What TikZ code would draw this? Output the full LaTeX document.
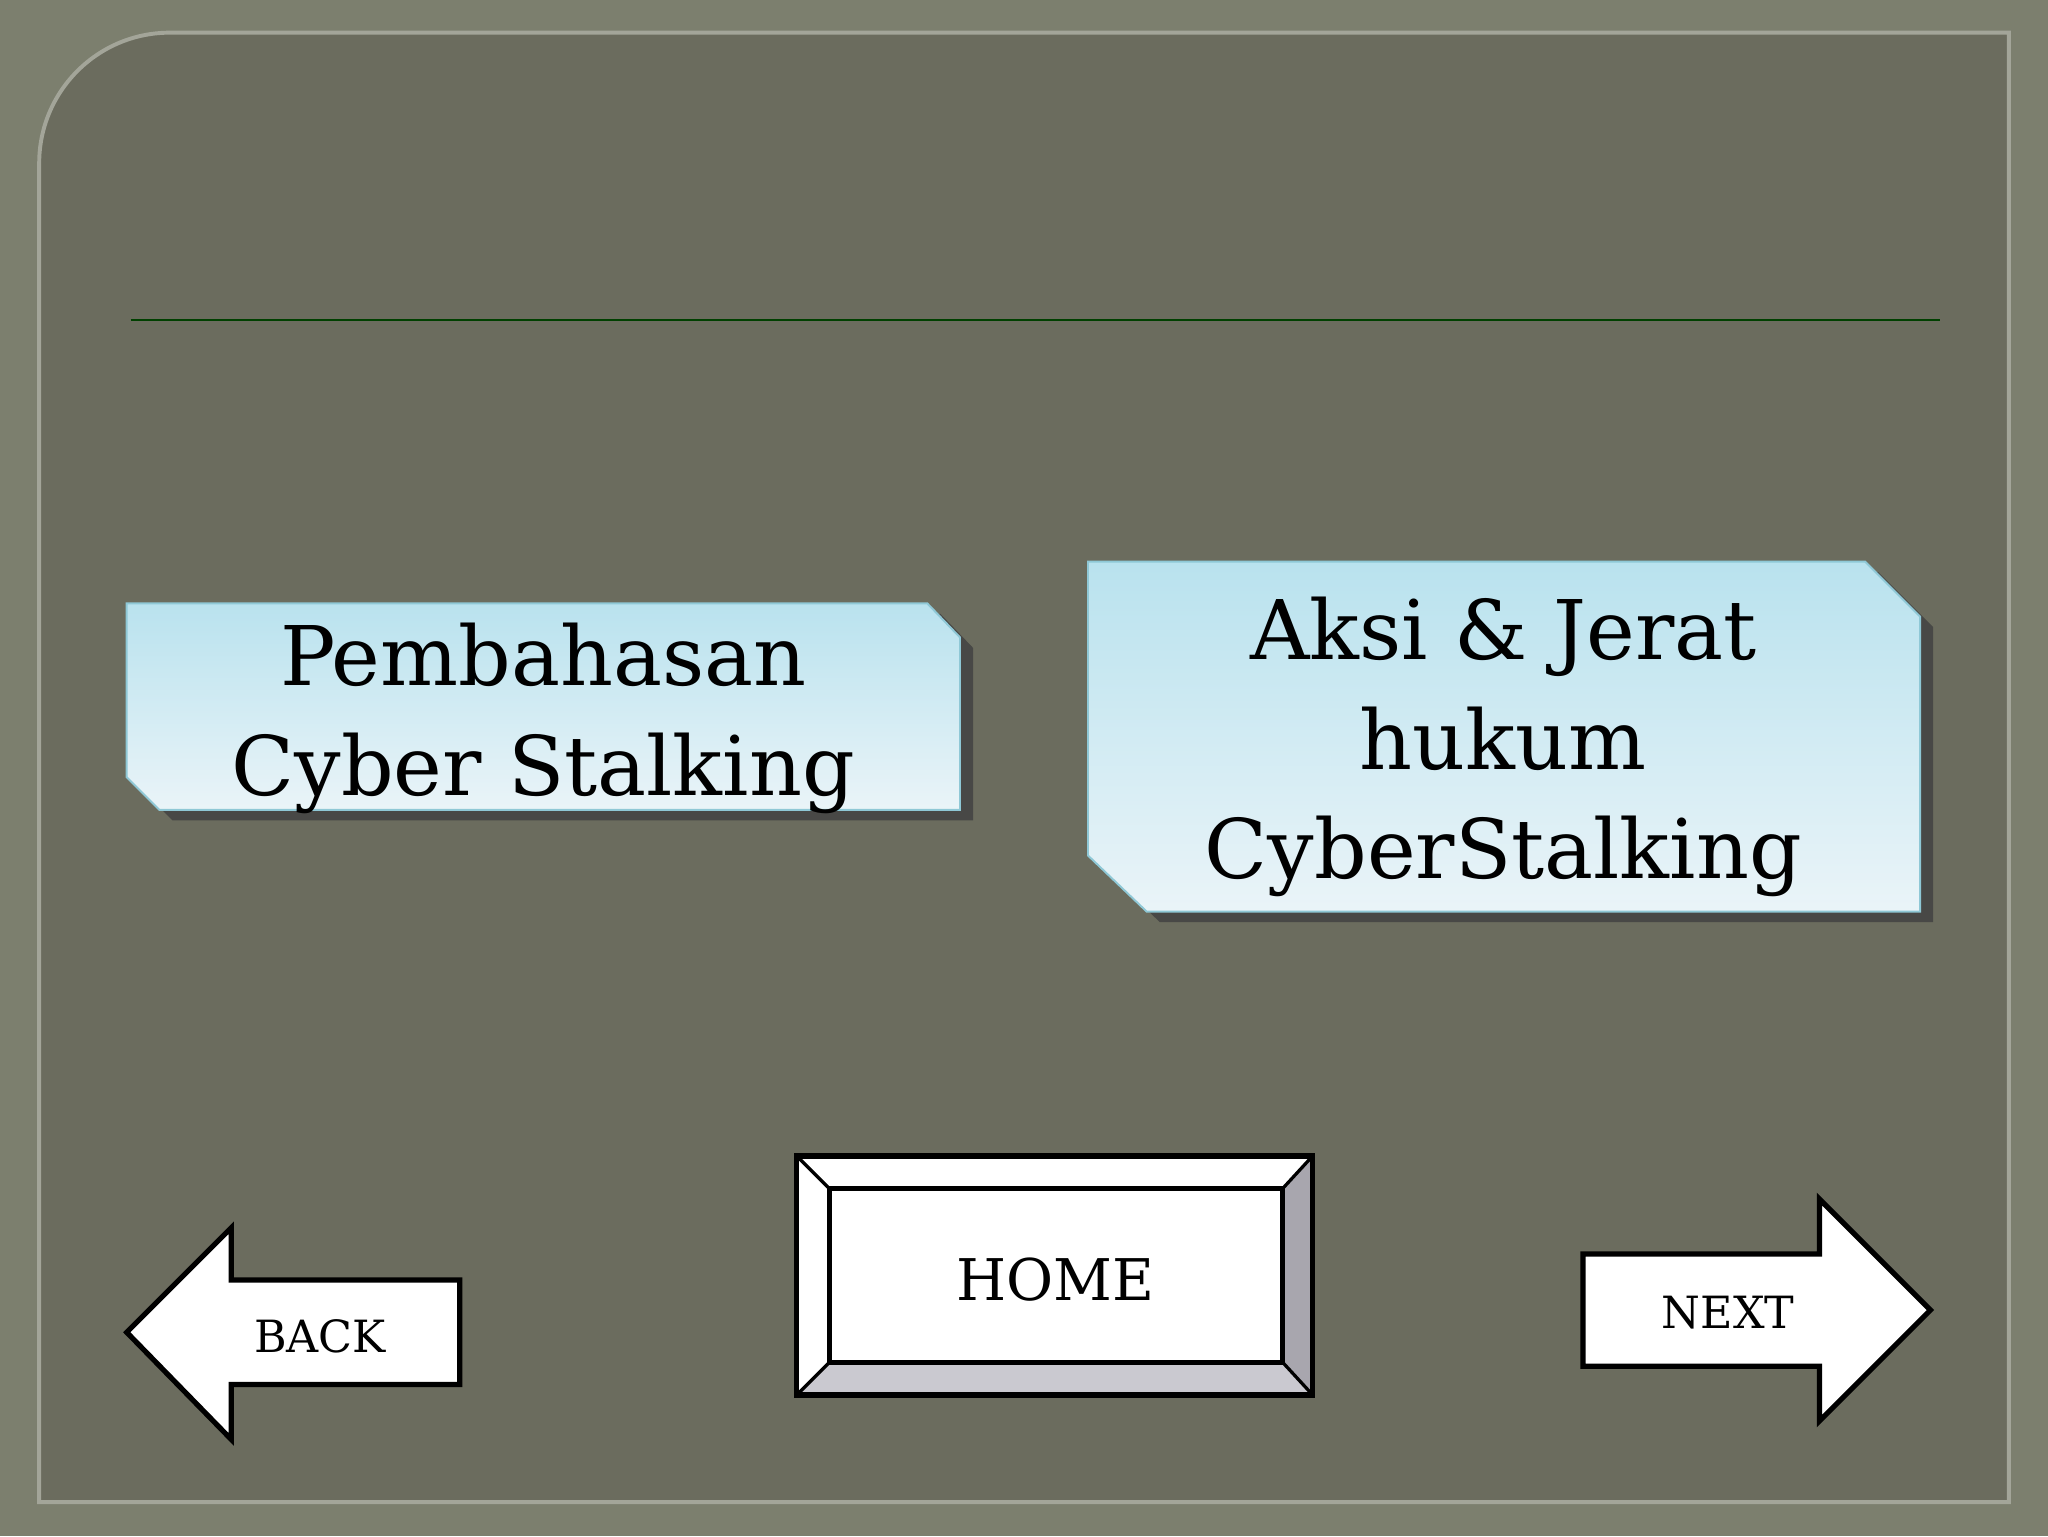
\documentclass[tikz,border=0pt]{standalone}
\usepackage{fontspec}
\setmainfont{DejaVu Serif}
\begin{document}
\begin{tikzpicture}[x=1pt,y=-1pt,
  btn/.style={fill=white,draw=black,line width=4pt,line join=miter},
  card/.style={top color=cardtop,bottom color=cardbot,draw=cardedge,line width=1.5pt},
  shadow/.style={fill=black!75,opacity=0.8},
  big/.style={font=\fontsize{63}{84}\selectfont,align=center,text=black},
  small/.style={font=\fontsize{34}{40}\selectfont,text=black}]
\definecolor{outer}{HTML}{7C7F6E}
\definecolor{panel}{HTML}{6B6C5E}
\definecolor{cardtop}{HTML}{B9E2EE}
\definecolor{cardbot}{HTML}{EAF4F8}
\definecolor{cardedge}{HTML}{8FC8D6}
\definecolor{bevr}{HTML}{A8A6AE}
\definecolor{bevb}{HTML}{CAC9D0}
\useasboundingbox (0,0) rectangle (1568,1176);
\fill[outer] (0,0) rectangle (1568,1176);
\draw[fill=panel,draw=outer!70!white,line width=3pt] (30,125) arc[start angle=180,end angle=270,radius=100] -- (1538,25) -- (1538,1150) -- (30,1150) -- cycle;
\draw[color=green!25!black,line width=1.5pt] (100,245) -- (1485,245);
% card 1
\fill[shadow] (107,470) -- (720,470) -- (745,496) -- (745,628) -- (132,628) -- (107,603) -- cycle;
\draw[card] (97,462) -- (710,462) -- (735,488) -- (735,620) -- (122,620) -- (97,595) -- cycle;
\node[big] (t1) at (416,550) {Pembahasan\\Cyber Stalking};
% card 2
\fill[shadow] (843,438) -- (1438,438) -- (1480,480) -- (1480,706) -- (888,706) -- (843,663) -- cycle;
\draw[card] (833,430) -- (1428,430) -- (1470,472) -- (1470,698) -- (878,698) -- (833,655) -- cycle;
\node[big] (t2) at (1151,572) {Aksi \& Jerat\\hukum\\CyberStalking};
% home
\fill[white] (610,885) -- (1005,885) -- (982,910) -- (635,910) -- (635,1043) -- (610,1068) -- cycle;
\fill[bevr] (1005,885) -- (1005,1068) -- (982,1043) -- (982,910) -- cycle;
\fill[bevb] (610,1068) -- (1005,1068) -- (982,1043) -- (635,1043) -- cycle;
\draw[black,line width=4pt] (610,885) rectangle (1005,1068);
\draw[btn] (635,910) rectangle (982,1043);
\draw[black,line width=2.5pt] (610,885)--(635,910) (1005,885)--(982,910) (610,1068)--(635,1043) (1005,1068)--(982,1043);
\node[small,font=\fontsize{44}{50}\selectfont] (home) at (808,980) {HOME};
% back
\draw[btn] (97,1020) -- (177,940) -- (177,980) -- (352,980) -- (352,1060) -- (177,1060) -- (177,1102) -- cycle;
\node[small] (back) at (245,1023) {BACK};
% next
\draw[btn] (1478,1003) -- (1393,918) -- (1393,960) -- (1212,960) -- (1212,1046) -- (1393,1046) -- (1393,1088) -- cycle;
\node[small] (next) at (1323,1005) {NEXT};
\end{tikzpicture}
\end{document}
